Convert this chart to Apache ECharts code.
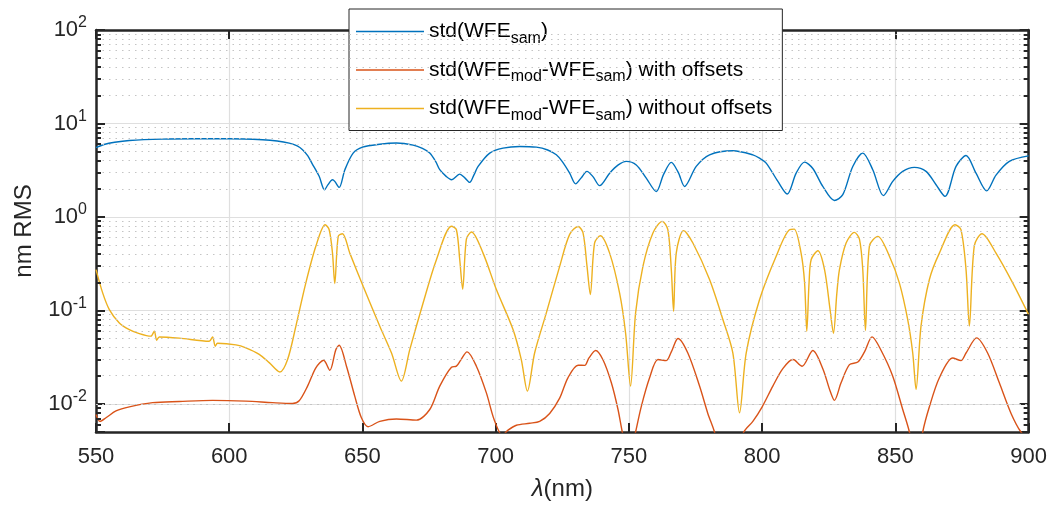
<!DOCTYPE html>
<html>
<head>
<meta charset="utf-8">
<title>std(WFE) vs wavelength</title>
<script src="https://cdn.jsdelivr.net/npm/echarts@6/dist/echarts.min.js"></script>
<style>
  html, body { margin: 0; padding: 0; background: #fff; }
  #chart { width: 1050px; height: 506px; }
</style>
</head>
<body>
<div id="chart"></div>
<script>
// values: wavelength in nm, rms in nm
const samLambda = [550, 553, 557, 562.5, 575, 587, 600, 612.5, 618, 622.5, 625.5, 627.5, 629.5, 631, 633.75, 635.75,
  637, 638.75, 639.6, 641.25, 643.4, 646.5, 650, 656.5, 662.75, 669, 672.5, 675.25, 677.5, 679, 681.5, 683.4,
  686.5, 688.5, 690.25, 691.8, 693.4, 697.75, 702.75, 709, 715.25, 719.5, 722.75, 725, 727.75, 730, 732,
  734.25, 736.5, 739, 742.75, 746, 749, 752.75, 756.5, 760.25, 763, 765.9, 768.5, 770.9, 775.25, 780.25,
  789, 796.5, 799, 801.5, 805.9, 809.4, 812.75, 815.9, 819, 822.75, 827.1, 830.25, 834, 837.75, 841.5,
  845.5, 849, 852.75, 857.1, 861.5, 865.25, 868.6, 872.75, 876.5, 880.25, 884.25, 887.75, 892.75, 900];
const samRms = [5.5, 5.95, 6.3, 6.58, 6.8, 6.85, 6.85, 6.7, 6.5, 6.16, 5.75, 5.24, 4.5, 3.77, 2.72, 1.95,
  2.2, 2.5, 2.4, 2.07, 3.2, 4.82, 5.58, 6.0, 6.17, 5.87, 5.4, 4.82, 3.9, 3.2, 2.7, 2.5,
  2.87, 2.6, 2.34, 2.8, 3.47, 4.82, 5.45, 5.68, 5.58, 5.2, 4.62, 3.9, 2.94, 2.26, 2.6,
  3.07, 2.7, 2.16, 2.94, 3.6, 3.93, 3.6, 2.6, 1.87, 2.85, 3.83, 3.0, 2.12, 3.47, 4.62,
  5.1, 4.62, 4.25, 3.77, 2.4, 1.76, 2.94, 3.86, 3.3, 2.12, 1.5, 1.73, 3.47, 4.82, 3.2,
  1.69, 2.4, 3.07, 3.39, 3.07, 2.21, 1.66, 3.47, 4.55, 2.94, 1.9, 2.8, 3.93, 4.5];

const offLambda = [550, 551.5, 553.75, 557.5, 562.5, 571.25, 581.25, 593.75, 606.25, 616.25, 623.75, 626.25,
  629.4, 632.5, 635.4, 637.75, 640, 641.25, 644, 647.1, 649.6, 652.1, 656.5, 662.75, 670.25, 675.25, 679,
  683.4, 685.25, 686.75, 689.25, 692.75, 696.5, 699.4, 702.5, 704.5, 707.75, 712.75, 716.5, 720.25, 724,
  727.1, 730.9, 733.4, 735, 737.5, 740.25, 743.4, 745.9, 747.5, 750, 752.5, 754.6, 757.75, 760.9, 764,
  765.9, 768.4, 772.1, 776.5, 779.6, 782.1, 787, 793.1, 796.5, 800, 804, 807.75, 811.5, 812.1, 815, 819,
  822.75, 825.5, 827.1, 829.6, 832.75, 835.9, 838.4, 841.25, 844.6, 849, 852.75, 855.25, 858, 860.25,
  862.75, 866.5, 871.5, 874.6, 876.5, 880.5, 884.6, 889, 893.4, 897.1, 900];
const offRms = [0.0077, 0.0065, 0.0071, 0.0084, 0.0093, 0.0103, 0.0106, 0.0109, 0.0107, 0.0103, 0.0101, 0.0108,
  0.0155, 0.0243, 0.0293, 0.0229, 0.038, 0.0424, 0.0253, 0.0121, 0.0071, 0.0057, 0.0065, 0.0069, 0.0067, 0.0087, 0.0155,
  0.0247, 0.0253, 0.029, 0.036, 0.0253, 0.0131, 0.0068, 0.0046, 0.0052, 0.0059, 0.0062, 0.0065, 0.0079, 0.0115,
  0.019, 0.0259, 0.0258, 0.031, 0.0372, 0.0296, 0.0168, 0.0087, 0.005, 0.0025, 0.005, 0.0093, 0.019, 0.0298, 0.029,
  0.036, 0.0501, 0.035, 0.0155, 0.0079, 0.005, 0.0015, 0.005, 0.0065, 0.0093, 0.0155, 0.0238, 0.0298, 0.0296, 0.0253, 0.0372,
  0.0238, 0.0137, 0.0109, 0.0168, 0.0263, 0.028, 0.036, 0.0521, 0.0375, 0.0198, 0.0087, 0.005, 0.002, 0.005,
  0.0093, 0.019, 0.031, 0.029, 0.035, 0.0508, 0.035, 0.0168, 0.0079, 0.005, 0.0042];

const noOffLambda = [550, 552.5, 555, 558.75, 562.5, 566.25, 570.6, 571.9, 572.75, 573.75, 581.25, 592.5, 593.75,
  594.75, 595.6, 602.5, 606.25, 611.25, 615, 619, 621.9, 625, 628.75, 632.5, 636, 637.5, 638.75, 639.6,
  640.9, 642.5, 645.25, 650.25, 656.5, 660.9, 664.6, 667.75, 672.75, 677.75, 683.4, 685.25, 686.5, 687.6,
  689, 690.9, 695.25, 700.25, 706.5, 709.6, 711.9, 714.6, 719, 724, 727.75, 730.9, 732.75, 734.25, 735.5,
  737.1, 739.25, 742.75, 746.5, 748.75, 750.6, 752.5, 755.25, 759, 762.5, 764.6, 765.9, 766.75, 767.75,
  770.5, 774, 780.25, 785.25, 789, 791.5, 794, 799, 805.25, 810.25, 812, 814.6, 815.9, 816.75, 817.6, 818.4,
  820.9, 823.4, 825.5, 826.75, 828, 829, 831.5, 834.6, 836.5, 837.75, 838.75, 840.25, 843.4, 847.75, 851.5,
  854.6, 856.5, 857.75, 859.6, 862.75, 866.5, 872.4, 874.6, 876.5, 877.75, 879.6, 882.5, 887.75, 894, 900];
const noOffRms = [0.273, 0.154, 0.102, 0.0735, 0.0624, 0.0565, 0.053, 0.06, 0.048, 0.052, 0.0505, 0.0468, 0.052,
  0.0414, 0.0445, 0.0428, 0.0398, 0.0339, 0.0276, 0.0219, 0.0298, 0.0676, 0.197, 0.485, 0.826, 0.73, 0.41, 0.194,
  0.62, 0.662, 0.41, 0.181, 0.0676, 0.035, 0.0175, 0.038, 0.12, 0.349, 0.794, 0.73, 0.35, 0.169,
  0.58, 0.69, 0.41, 0.167, 0.0624, 0.0298, 0.0137, 0.035, 0.094, 0.296, 0.65, 0.79, 0.68, 0.3, 0.148,
  0.526, 0.63, 0.41, 0.153, 0.057, 0.0155, 0.094, 0.296, 0.673, 0.897, 0.73, 0.273, 0.098, 0.41,
  0.713, 0.526, 0.214, 0.08, 0.035, 0.008, 0.035, 0.13, 0.38, 0.73, 0.74, 0.41, 0.2, 0.0598, 0.2, 0.35,
  0.435, 0.273, 0.101, 0.057, 0.15, 0.273, 0.526, 0.684, 0.58, 0.273, 0.061, 0.49, 0.62, 0.38, 0.196,
  0.08, 0.035, 0.0143, 0.0676, 0.214, 0.41, 0.826, 0.73, 0.273, 0.068, 0.49, 0.662, 0.41, 0.197, 0.09];

const seriesNames = ['sam', 'with', 'without'];
const seriesColors = ['#0072BD', '#D95319', '#EDB120'];
const legendText = {
  sam: '{n|std(WFE}{s|sam}{n|)}',
  with: '{n|std(WFE}{s|mod}{n|-WFE}{s|sam}{n|) with offsets}',
  without: '{n|std(WFE}{s|mod}{n|-WFE}{s|sam}{n|) without offsets}'
};

const xMin = 550, xMax = 900, xStep = 50;
const yMin = 0.005, yMax = 100;

const FONT = 'Liberation Sans, Arial, Helvetica, sans-serif';
const INK = '#262626';

function pairs(xs, ys) {
  return xs.map((x, i) => [x, ys[i]]);
}

// minor log ticks 2..9 x 10^k inside the range
let minorVals = [];
for (let k = -3; k <= 1; k++) {
  for (let m = 2; m <= 9; m++) {
    let v = +(m * Math.pow(10, k)).toPrecision(3);
    if (v >= yMin && v <= yMax) minorVals.push(v);
  }
}
const tickLen = 5 * (xMax - xMin) / 933;   // 5px in data units

let guideLines = [];
minorVals.forEach(v => {
  guideLines.push({ yAxis: v, lineStyle: { color: '#c4c4c4', width: 1, type: [1.5, 5] } });
  guideLines.push([{ coord: [xMin, v], lineStyle: { color: INK, width: 2, type: 'solid' } }, { coord: [xMin + tickLen, v] }]);
  guideLines.push([{ coord: [xMax - tickLen, v], lineStyle: { color: INK, width: 2, type: 'solid' } }, { coord: [xMax, v] }]);
});

let chart = echarts.init(document.getElementById('chart'));

let series = seriesNames.map((name, i) => ({
  name: name,
  type: 'line',
  data: pairs([samLambda, offLambda, noOffLambda][i], [samRms, offRms, noOffRms][i]),
  symbol: 'none',
  showSymbol: false,
  smooth: 0.3,
  clip: true,
  lineStyle: { color: seriesColors[i], width: 1.4 },
  itemStyle: { color: seriesColors[i] },
  z: 3
}));
series.unshift({
  name: 'guides',
  type: 'line',
  data: [],
  silent: true,
  z: 1,
  markLine: {
    silent: true,
    symbol: 'none',
    animation: false,
    label: { show: false },
    data: guideLines
  }
});

let yLabel = function (v) {
  let e = Math.log10(v);
  let r = Math.round(e);
  if (Math.abs(e - r) > 1e-6) return '';
  return '{b|10}{e|' + r + '}';
};

let option = {
  animation: false,
  backgroundColor: '#fff',
  grid: { left: 96, right: 21, top: 30, bottom: 73, containLabel: false },
  legend: {
    data: seriesNames,
    orient: 'vertical',
    left: 349,
    top: 9,
    padding: [12, 10, 7, 7],
    icon: 'rect',
    itemWidth: 68,
    itemHeight: 1.5,
    itemGap: 13,
    backgroundColor: '#fff',
    borderColor: INK,
    borderWidth: 1,
    borderRadius: 0,
    formatter: name => legendText[name],
    textStyle: {
      fontFamily: FONT,
      color: '#000',
      rich: {
        n: { fontFamily: FONT, fontSize: 21, color: '#000' },
        s: { fontFamily: FONT, fontSize: 16, color: '#000', padding: [14, 0, 0, 0] }
      }
    }
  },
  xAxis: [{
    type: 'value',
    min: xMin, max: xMax, interval: xStep,
    position: 'bottom',
    name: '{i|λ}(nm)',
    nameLocation: 'middle',
    nameGap: 45,
    nameTextStyle: {
      fontFamily: FONT, fontSize: 24, color: INK,
      rich: { i: { fontFamily: FONT, fontSize: 24, fontStyle: 'italic', color: INK } }
    },
    axisLine: { show: true, onZero: false, lineStyle: { color: INK, width: 2.5 } },
    axisTick: { show: true, inside: true, length: 9, lineStyle: { color: INK, width: 2 } },
    axisLabel: { fontFamily: FONT, fontSize: 22, color: INK, margin: 14 },
    splitLine: { show: true, lineStyle: { color: '#dfdfdf', width: 1.2 } }
  }, {
    type: 'value',
    min: xMin, max: xMax, interval: xStep,
    position: 'top',
    axisLine: { show: true, onZero: false, lineStyle: { color: INK, width: 2.5 } },
    axisTick: { show: true, inside: true, length: 9, lineStyle: { color: INK, width: 2 } },
    axisLabel: { show: false },
    splitLine: { show: false }
  }],
  yAxis: [{
    type: 'log',
    logBase: 10,
    min: yMin, max: yMax,
    position: 'left',
    name: 'nm RMS',
    nameLocation: 'middle',
    nameGap: 60,
    nameTextStyle: { fontFamily: FONT, fontSize: 24, color: INK },
    axisLine: { show: true, onZero: false, lineStyle: { color: INK, width: 2.5 } },
    axisTick: { show: true, inside: true, length: 9, lineStyle: { color: INK, width: 2 } },
    axisLabel: {
      margin: 9,
      formatter: yLabel,
      rich: {
        b: { fontFamily: FONT, fontSize: 22, color: INK },
        e: { fontFamily: FONT, fontSize: 16, color: INK, padding: [0, 0, 14, 0] }
      }
    },
    splitLine: { show: true, lineStyle: { color: '#dfdfdf', width: 1.2 } }
  }, {
    type: 'log',
    logBase: 10,
    min: yMin, max: yMax,
    position: 'right',
    axisLine: { show: true, onZero: false, lineStyle: { color: INK, width: 2.5 } },
    axisTick: { show: true, inside: true, length: 9, lineStyle: { color: INK, width: 2 } },
    axisLabel: { show: false },
    splitLine: { show: false }
  }],
  series: series
};

chart.setOption(option);
</script>
</body>
</html>
